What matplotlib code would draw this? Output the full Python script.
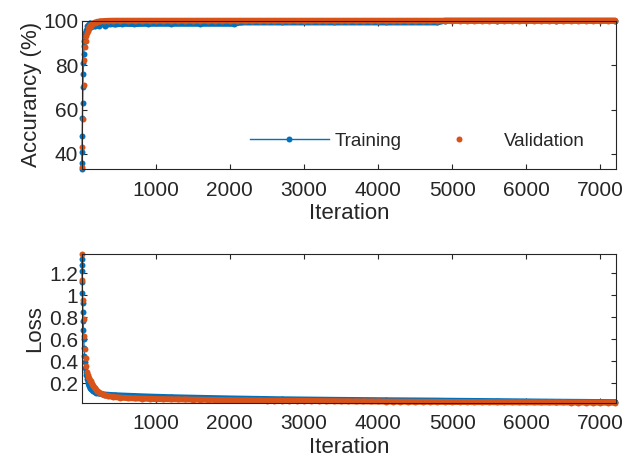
import matplotlib
matplotlib.use("Agg")
import matplotlib.pyplot as plt

plt.rcParams['font.family'] = ['Liberation Sans', 'DejaVu Sans']

C_TRAIN = "#0072BD"
C_VAL = "#D95319"
C_AX = "#262626"

# training checkpoints (accuracy + loss per logged iteration)
tr_iter = [1, 3, 5, 8, 11, 14, 17, 20, 24, 28,
           33, 38, 44, 50, 57, 64, 72, 80, 90, 100,
           115, 130, 150, 175, 200, 230, 270, 320, 380, 450,
           550, 700, 900, 1200, 1600, 2050, 2150, 2700, 3400, 4100,
           4800, 4900, 5600, 6400, 7200]
tr_acc = [33.2, 36, 41, 48, 56, 63, 70, 76, 81, 85,
          88.5, 91, 93, 94.5, 96, 95, 97.5, 96, 98.2, 96.8,
          98.8, 97.2, 98.6, 97.4, 99.0, 97.6, 98.8, 97.8, 98.6, 98.3,
          98.6, 98.5, 98.6, 98.6, 98.6, 98.6, 99.2, 99.2, 99.2, 99.2,
          99.2, 100, 100, 100, 100]
tr_loss = [1.33, 1.28, 1.22, 1.12, 1.02, 0.93, 0.85, 0.77, 0.68, 0.60,
           0.52, 0.45, 0.39, 0.34, 0.30, 0.27, 0.24, 0.22, 0.20, 0.18,
           0.16, 0.145, 0.13, 0.12, 0.112, 0.106, 0.100, 0.096, 0.093, 0.090,
           0.087, 0.083, 0.078, 0.072, 0.066, 0.060, 0.059, 0.053, 0.048, 0.044,
           0.041, 0.040, 0.036, 0.031, 0.027]

# validation checkpoints
val_iter = [1, 10, 19, 28, 37, 46, 55, 64, 73, 82,
            100, 120, 145, 175, 210, 250, 300, 360, 430, 520,
            620, 720, 820, 920,
            1000, 1100, 1200, 1300, 1400, 1500, 1600, 1700, 1800, 1900,
            2000, 2100, 2200, 2300, 2400, 2500, 2600, 2700, 2800, 2900,
            3000, 3100, 3200, 3300, 3400, 3500, 3600, 3700, 3800, 3900,
            4000, 4100, 4200, 4300, 4400, 4500, 4600, 4700, 4800, 4900,
            5000, 5100, 5200, 5300, 5400, 5500, 5600, 5700, 5800, 5900,
            6000, 6100, 6200, 6300, 6400, 6500, 6600, 6700, 6800, 6900,
            7000, 7100, 7200]
val_acc = [34.2, 43.3, 55.5, 71.2, 82.1, 88.3, 91.0, 93.0, 94.5, 95.5,
           96.8, 97.8, 98.6, 99.1, 99.5, 99.7, 99.85, 99.95, 100, 100,
           100, 100, 100, 100,
           100, 100, 100, 100, 100, 100, 100, 100, 100, 100,
           100, 100, 100, 100, 100, 100, 100, 100, 100, 100,
           100, 100, 100, 100, 100, 100, 100, 100, 100, 100,
           100, 100, 100, 100, 100, 100, 100, 100, 100, 100,
           100, 100, 100, 100, 100, 100, 100, 100, 100, 100,
           100, 100, 100, 100, 100, 100, 100, 100, 100, 100,
           100, 100, 100]
val_loss = [1.376, 1.14, 0.96, 0.78, 0.63, 0.51, 0.43, 0.36, 0.30, 0.27,
            0.245, 0.22, 0.19, 0.16, 0.13, 0.11, 0.093, 0.082, 0.074, 0.068,
            0.064, 0.061, 0.059, 0.057,
            0.055, 0.054, 0.053, 0.052, 0.051, 0.050, 0.049, 0.048, 0.047, 0.046,
            0.045, 0.044, 0.044, 0.043, 0.042, 0.041, 0.041, 0.040, 0.039, 0.039,
            0.038, 0.037, 0.037, 0.036, 0.036, 0.035, 0.035, 0.034, 0.034, 0.033,
            0.033, 0.032, 0.032, 0.031, 0.031, 0.030, 0.030, 0.030, 0.029, 0.029,
            0.028, 0.028, 0.028, 0.027, 0.027, 0.027, 0.026, 0.026, 0.026, 0.025,
            0.025, 0.025, 0.024, 0.024, 0.024, 0.024, 0.023, 0.023, 0.023, 0.023,
            0.022, 0.022, 0.022]

x_ticks = [1000, 2000, 3000, 4000, 5000, 6000, 7000]
acc_ticks = [40, 60, 80, 100]
loss_ticks = [0.2, 0.4, 0.6, 0.8, 1.0, 1.2]
loss_ticklabels = ["0.2", "0.4", "0.6", "0.8", "1", "1.2"]

fig = plt.figure(figsize=(6.24, 4.59), dpi=100, facecolor="white")
ax1 = fig.add_axes([0.1308, 0.6318, 0.8564, 0.3231])
ax2 = fig.add_axes([0.1308, 0.1227, 0.8564, 0.3239])

MS = 4.3
mk = dict(marker='o', markersize=MS, markeredgewidth=0, clip_on=False)


def dense(ax, x, y, color, i0):
    # the logged points sit so close together that they merge into a band
    ax.plot(x[i0:], y[i0:], '-', color=color, lw=MS, clip_on=False,
            solid_capstyle='round', solid_joinstyle='round')


def style(ax):
    for s in ax.spines.values():
        s.set_color(C_AX)
        s.set_linewidth(0.8)
    ax.tick_params(direction='in', top=True, right=True, length=3.5,
                   width=0.8, color=C_AX, labelcolor=C_AX, labelsize=15)
    ax.tick_params(axis='x', pad=8.5)
    ax.tick_params(axis='y', pad=2.5)
    ax.set_xticks(x_ticks)
    ax.set_xlim(0, 7210)
    ax.set_xlabel("Iteration", fontsize=16, color=C_AX, labelpad=2.5)


# Accuracy
dense(ax1, tr_iter, tr_acc, C_TRAIN, 19)
ax1.plot(tr_iter, tr_acc, '-', color=C_TRAIN, lw=1.0, label="Training", **mk)
dense(ax1, val_iter, val_acc, C_VAL, 10)
ax1.plot(val_iter, val_acc, linestyle='none', color=C_VAL, label="Validation", **mk)
style(ax1)
ax1.set_ylim(33.2, 100)
ax1.set_yticks(acc_ticks)
ax1.set_ylabel("Accurancy (%)", fontsize=16, color=C_AX, labelpad=1)
ax1.legend(loc='center', bbox_to_anchor=(0.6286, 0.189), ncol=2, frameon=False,
           fontsize=13.5, handlelength=4.2, handletextpad=0.3,
           columnspacing=1.0, labelcolor=C_AX)

# Loss
dense(ax2, tr_iter, tr_loss, C_TRAIN, 19)
ax2.plot(tr_iter, tr_loss, '-', color=C_TRAIN, lw=1.0, **mk)
dense(ax2, val_iter, val_loss, C_VAL, 10)
ax2.plot(val_iter, val_loss, linestyle='none', color=C_VAL, **mk)
style(ax2)
ax2.set_ylim(0.022, 1.376)
ax2.set_yticks(loss_ticks)
ax2.set_yticklabels(loss_ticklabels)
ax2.set_ylabel("Loss", fontsize=16, color=C_AX, labelpad=2.5)

fig.savefig("out.png", dpi=100)
